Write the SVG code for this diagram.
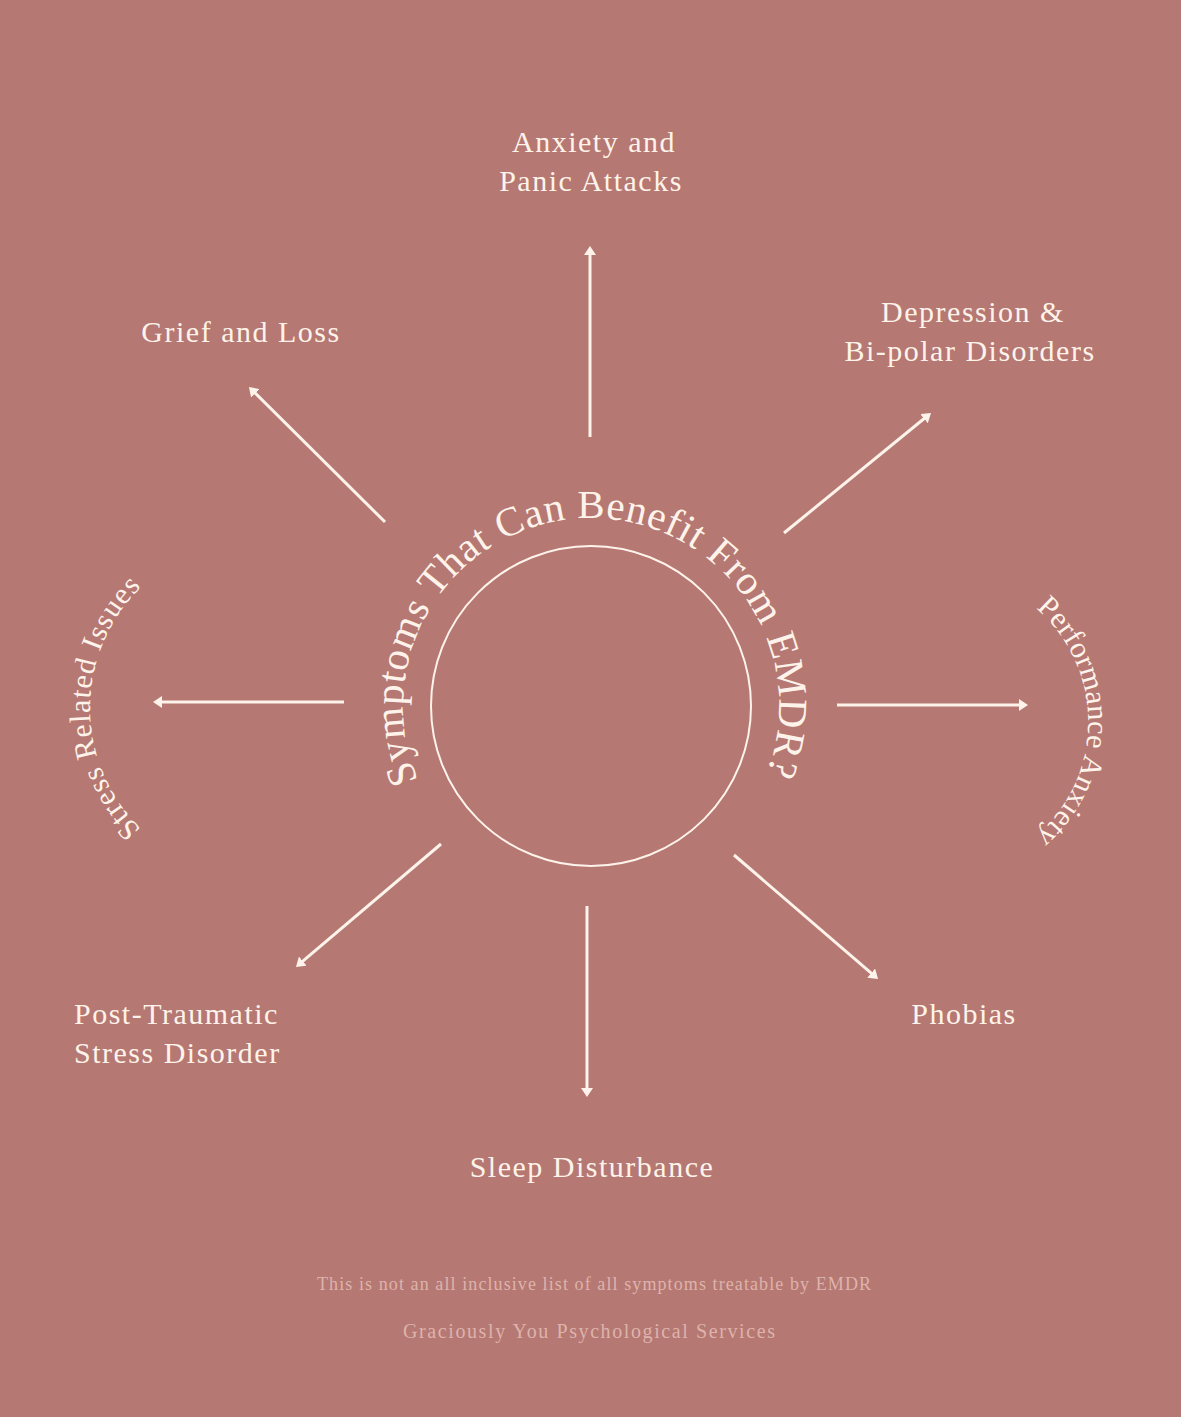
<svg xmlns="http://www.w3.org/2000/svg" width="1181" height="1417" viewBox="0 0 1181 1417">
  <style>
    .lbl { font-family: "Liberation Serif", "DejaVu Serif", serif; font-size: 30px; fill: #FDF3EA; letter-spacing: 1.5px; }
    .mid { text-anchor: middle; }
    .arc { font-family: "Liberation Serif", "DejaVu Serif", serif; fill: #FDF3EA; }
    .foot { font-family: "Liberation Serif", "DejaVu Serif", serif; fill: #DDB3AC; text-anchor: middle; }
    .conn { stroke: #FDF3EA; stroke-width: 3; fill: none; marker-end: url(#ah); }
  </style>
  <defs>
    <marker id="ah" viewBox="0 0 9 12" markerWidth="9" markerHeight="12" refX="5" refY="6" orient="auto" markerUnits="userSpaceOnUse">
      <path d="M0,0 L9,6 L0,12 z" fill="#FDF3EA"/>
    </marker>
    <path id="titleArc" d="M 423.5 791.4 A 188 188 0 1 1 762 784.3"/>
    <path id="leftArc" d="M 174 853.5 A 168 168 0 0 1 174 562.5"/>
    <path id="rightArc" d="M 1013 592 A 150 150 0 0 1 1013 852"/>
  </defs>
  <rect width="1181" height="1417" fill="#B67872"/>

  <g id="center">
    <circle cx="591" cy="706" r="160" fill="none" stroke="#FDF3EA" stroke-width="2"/>
    <text class="arc" font-size="41"><textPath href="#titleArc" startOffset="50%" text-anchor="middle" textLength="735" lengthAdjust="spacing">Symptoms That Can Benefit From EMDR?</textPath></text>
  </g>

  <g id="connectors">
    <path class="conn" d="M 590 437 L 590 250"/>
    <path class="conn" d="M 784 533 L 927.9 415.5"/>
    <path class="conn" d="M 837 705 L 1024 705"/>
    <path class="conn" d="M 734 855 L 875 976.4"/>
    <path class="conn" d="M 587 906 L 587 1093"/>
    <path class="conn" d="M 441 844 L 299 964.4"/>
    <path class="conn" d="M 344 702 L 157 702"/>
    <path class="conn" d="M 385 522 L 251.8 389.8"/>
  </g>

  <g id="anxiety">
    <text class="lbl mid" x="594" y="152">Anxiety and</text>
    <text class="lbl mid" x="591" y="191">Panic Attacks</text>
  </g>
  <g id="depression">
    <text class="lbl mid" x="973" y="322">Depression &amp;</text>
    <text class="lbl mid" x="970" y="361">Bi-polar Disorders</text>
  </g>
  <g id="grief">
    <text class="lbl mid" x="241" y="342">Grief and Loss</text>
  </g>
  <g id="stress">
    <text class="arc" font-size="30"><textPath href="#leftArc" startOffset="50%" text-anchor="middle" textLength="270" lengthAdjust="spacing">Stress Related Issues</textPath></text>
  </g>
  <g id="performance">
    <text class="arc" font-size="30"><textPath href="#rightArc" startOffset="50%" text-anchor="middle" textLength="258" lengthAdjust="spacing">Performance Anxiety</textPath></text>
  </g>
  <g id="ptsd">
    <text class="lbl" x="74" y="1024">Post-Traumatic</text>
    <text class="lbl" x="74" y="1063">Stress Disorder</text>
  </g>
  <g id="phobias">
    <text class="lbl mid" x="964" y="1024">Phobias</text>
  </g>
  <g id="sleep">
    <text class="lbl mid" x="592" y="1177">Sleep Disturbance</text>
  </g>
  <g id="footer">
    <text class="foot" x="594" y="1290" font-size="18" textLength="554" lengthAdjust="spacing">This is not an all inclusive list of all symptoms treatable by EMDR</text>
    <text class="foot" x="589" y="1338" font-size="20" textLength="372" lengthAdjust="spacing">Graciously You Psychological Services</text>
  </g>
</svg>
